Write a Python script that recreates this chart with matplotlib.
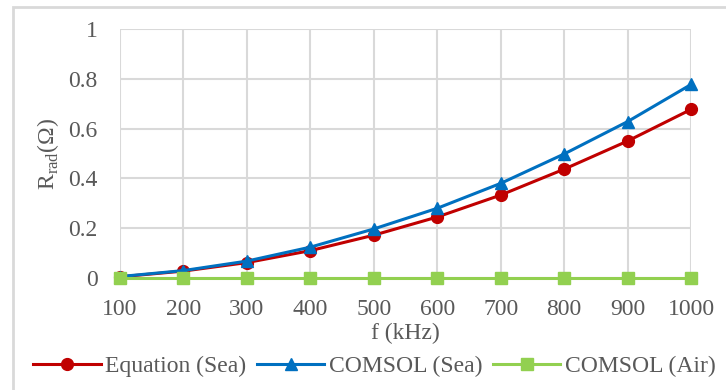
import numpy as np
import matplotlib.pyplot as plt
from matplotlib.patches import Rectangle

plt.rcParams['font.family'] = ['Liberation Serif', 'DejaVu Serif']

# frequencies (kHz)
freq = [100, 200, 300, 400, 500, 600, 700, 800, 900, 1000]
# radiation resistance (ohm)
eq_sea = [0.005, 0.028, 0.062, 0.11, 0.172, 0.245, 0.333, 0.437, 0.55, 0.677]
comsol_sea = [0.006, 0.03, 0.068, 0.124, 0.197, 0.28, 0.38, 0.498, 0.628, 0.777]
comsol_air = [0, 0, 0, 0, 0, 0, 0, 0, 0, 0]

fig = plt.figure(figsize=(7.26, 3.9), dpi=100)
ax = fig.add_axes([0.165, 0.287, 0.787, 0.639])

ax.plot(freq, eq_sea, color='#C00000', lw=2.2, marker='o', ms=8.5,
        label='Equation (Sea)', clip_on=False, zorder=4)
ax.plot(freq, comsol_sea, color='#0070C0', lw=2.2, marker='^', ms=9,
        label='COMSOL (Sea)', clip_on=False, zorder=5)
ax.plot(freq, comsol_air, color='#92D050', lw=2.2, marker='s', ms=8.5,
        label='COMSOL (Air)', clip_on=False, zorder=6)

ax.set_xlim(100, 1000)
ax.set_ylim(0, 1)
ax.set_xticks(freq)
ax.set_yticks([0, 0.2, 0.4, 0.6, 0.8, 1])
ax.set_yticklabels(['0', '0.2', '0.4', '0.6', '0.8', '1'])
ax.grid(True, color='#D9D9D9', lw=1.5)
ax.set_axisbelow(True)
for s in ax.spines.values():
    s.set_visible(False)
ax.tick_params(length=0, labelsize=17, labelcolor='#595959')
ax.tick_params(axis='y', pad=16)
ax.tick_params(axis='x', pad=15)

ax.set_xlabel('f (kHz)', fontsize=17, color='#595959', labelpad=2)
ax.set_ylabel(r'R$_{\mathregular{rad}}$(Ω)', fontsize=17, color='#595959', labelpad=5)

ax.legend(loc='center', bbox_to_anchor=(0.446, -0.355), ncol=3, frameon=False,
          fontsize=17, handlelength=2.85, columnspacing=0.45, handletextpad=0.2,
          borderpad=0, labelcolor='#595959')

fig.patches.append(Rectangle((13 / 726, -0.1), 1.2, 1.1 - 7 / 390, transform=fig.transFigure,
                             fill=False, edgecolor='#D9D9D9', lw=2, figure=fig))

fig.savefig('out.png', dpi=100)
